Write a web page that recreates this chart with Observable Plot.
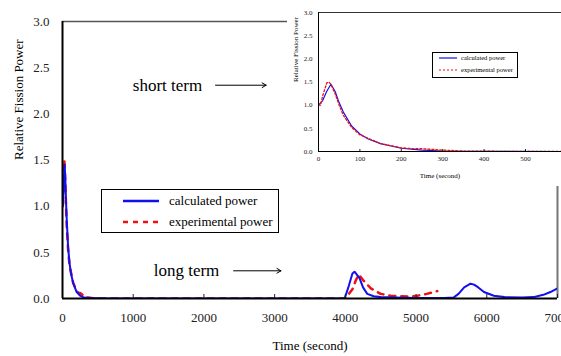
<!DOCTYPE html>
<html>
<head>
<meta charset="utf-8">
<script src="https://cdn.jsdelivr.net/npm/d3@7"></script>
<script src="https://cdn.jsdelivr.net/npm/@observablehq/plot@0.6"></script>
<style>
  html, body { margin: 0; padding: 0; background: #fff; }
  #wrap { position: relative; width: 561px; height: 356px; overflow: hidden; font-family: "Liberation Serif", "Times New Roman", serif; }
  #wrap svg text { font-family: "Liberation Serif", "Times New Roman", serif !important; }
  #inset { position: absolute; left: 287px; top: 0; width: 274px; height: 186px; background: #fff; }
  .legend { position: absolute; border: 1px solid #000; background: #fff; box-sizing: border-box; font-family: "Liberation Serif", "Times New Roman", serif; }
  .legend .row { position: absolute; display: flex; align-items: center; white-space: nowrap; }
</style>
</head>
<body>
<div id="wrap"></div>
<script>
// ---- data ----
const calcTime  = [0,10,20,30,40,50,60,80,100,120,150,200,250,300,400,600,1000,2000,3000,3990,4050,4100,4130,4200,4250,4310,4400,4500,4700,5000,5400,5530,5600,5680,5770,5820,5880,5960,6100,6250,6500,6660,6800,6900,7000];
const calcPower = [1.0,1.1,1.3,1.45,1.3,1.05,0.85,0.55,0.38,0.27,0.17,0.07,0.03,0.01,0.005,0,0,0,0,0,0.14,0.27,0.29,0.22,0.12,0.05,0.025,0.015,0.01,0.005,0.005,0.01,0.05,0.12,0.16,0.15,0.12,0.07,0.03,0.015,0.01,0.015,0.04,0.07,0.11];
const expTime   = [0,5,10,20,25,30,40,50,60,80,100,150,200,230,250,300,350,500,1000,2000,3000,4000,4100,4150,4190,4250,4360,4500,4640,4920,5020,5150,5300];
const expPower  = [1.0,1.0,1.2,1.48,1.5,1.45,1.25,1.0,0.78,0.52,0.36,0.17,0.08,0.06,0.06,0.03,0.01,0,0,0,0,0,0.1,0.2,0.26,0.2,0.11,0.05,0.03,0.02,0.03,0.05,0.08];
const seriesNames = ["calculated power", "experimental power"];
const yTicks = [0, 0.5, 1, 1.5, 2, 2.5, 3];
const xTicksMain = [0, 1000, 2000, 3000, 4000, 5000, 6000, 7000];
const xTicksInset = [0, 100, 200, 300, 400, 500];
const annotations = [
  {label: "short term", x: 1485, y: 2.31, x1: 2164, x2: 2880},
  {label: "long term",  x: 1754, y: 0.30, x1: 2420, x2: 3090}
];

const calc = calcTime.map((t, i) => ({t, p: calcPower[i]}));
const exp  = expTime.map((t, i) => ({t, p: expPower[i]}));
const BLUE = "#1010f0", RED = "#f01010";
const FONT = "Liberation Serif, Times New Roman, serif";

// ---- main chart ----
const main = Plot.plot({
  width: 561, height: 356,
  marginLeft: 62, marginRight: 4, marginTop: 21, marginBottom: 58,
  style: {fontFamily: FONT, fontSize: "13px", color: "#222", background: "transparent"},
  x: {domain: [0, 7000]},
  y: {domain: [0, 3]},
  marks: [
    Plot.ruleY([3], {stroke: "#555", strokeWidth: 1.5}),
    Plot.ruleX([7000], {stroke: "#777", strokeWidth: 2}),
    Plot.line(exp, {x: "t", y: "p", stroke: RED, strokeWidth: 2.5, strokeDasharray: "6,6", clip: true}),
    Plot.line(calc, {x: "t", y: "p", stroke: BLUE, strokeWidth: 2, clip: true}),
    Plot.axisX({ticks: xTicksMain, tickSize: -4, tickPadding: 18, tickFormat: d => String(d), label: null, fontFamily: FONT, fontSize: 13, fill: "#222"}),
    Plot.axisY({ticks: yTicks, tickSize: 0, tickPadding: 13, tickFormat: d => d.toFixed(1), label: null, fontFamily: FONT, fontSize: 13, fill: "#222"}),
    Plot.ruleX([0], {stroke: "#000", strokeWidth: 2}),
    Plot.ruleY([0], {stroke: "#000", strokeWidth: 2}),
    Plot.text(annotations, {x: "x", y: "y", text: "label", fontSize: 17, fontFamily: FONT, fill: "#000"}),
    Plot.arrow(annotations, {x1: "x1", x2: "x2", y1: "y", y2: "y", stroke: "#000", strokeWidth: 1, headLength: 7}),
    Plot.text(["Time (second)"], {frameAnchor: "bottom", dy: 51, text: d => d, fontSize: 13, fontFamily: FONT, fill: "#000"}),
    Plot.text(["Relative Fission Power"], {frameAnchor: "left", dx: -44, rotate: -90, text: d => d, fontSize: 13, fontFamily: FONT, fill: "#000"})
  ]
});
const wrap = document.getElementById("wrap");
main.style.position = "absolute"; main.style.left = "0"; main.style.top = "0";
wrap.appendChild(main);

// ---- inset chart ----
const insetDiv = document.createElement("div");
insetDiv.id = "inset";
wrap.appendChild(insetDiv);
const inset = Plot.plot({
  width: 274, height: 186,
  marginLeft: 31, marginRight: 0, marginTop: 12, marginBottom: 35,
  style: {fontFamily: FONT, fontSize: "7px", color: "#222", background: "transparent"},
  x: {domain: [0, 587]},
  y: {domain: [0, 3]},
  marks: [
    Plot.ruleY([3], {stroke: "#333", strokeWidth: 1}),
    Plot.line(calc, {x: "t", y: "p", stroke: BLUE, strokeWidth: 1.2, clip: true}),
    Plot.line(exp, {x: "t", y: "p", stroke: RED, strokeWidth: 1.3, strokeDasharray: "2,2", clip: true}),
    Plot.axisX({ticks: xTicksInset, tickSize: -2, tickPadding: 7, tickFormat: d => String(d), label: null, fontFamily: FONT, fontSize: 7}),
    Plot.axisY({ticks: yTicks, tickSize: 0, tickPadding: 6, tickFormat: d => d.toFixed(1), label: null, fontFamily: FONT, fontSize: 7}),
    Plot.ruleX([0], {stroke: "#000", strokeWidth: 1}),
    Plot.ruleY([0], {stroke: "#000", strokeWidth: 1}),
    Plot.text(["Time (second)"], {frameAnchor: "bottom", dy: 26, text: d => d, fontSize: 7, fontFamily: FONT, fill: "#000"}),
    Plot.text(["Relative Fission Power"], {frameAnchor: "left", dx: -23, rotate: -90, text: d => d, fontSize: 7, fontFamily: FONT, fill: "#000"})
  ]
});
insetDiv.appendChild(inset);

// ---- legends ----
function legend(left, top, w, h, rows, fontSize, lineLen, lineW) {
  const box = document.createElement("div");
  box.className = "legend";
  Object.assign(box.style, {left: left + "px", top: top + "px", width: w + "px", height: h + "px"});
  rows.forEach((r) => {
    const row = document.createElement("div");
    row.className = "row";
    Object.assign(row.style, {left: r.x + "px", top: r.y + "px", fontSize: fontSize + "px", color: "#000"});
    const svg = `<svg width="${lineLen}" height="6" style="margin-right:${r.gap}px"><line x1="0" y1="3" x2="${lineLen}" y2="3" stroke="${r.color}" stroke-width="${lineW}" ${r.dash ? `stroke-dasharray="${r.dash}"` : ""}/></svg>`;
    row.innerHTML = svg + `<span>${r.name}</span>`;
    box.appendChild(row);
  });
  wrap.appendChild(box);
}
legend(101, 189, 178, 44, [
  {name: seriesNames[0], color: BLUE, x: 21, y: 3, gap: 10},
  {name: seriesNames[1], color: RED, x: 21, y: 24, gap: 10, dash: "5,5"}
], 13, 36, 2.5);
legend(432, 52, 86, 26, [
  {name: seriesNames[0], color: BLUE, x: 6, y: 1, gap: 4},
  {name: seriesNames[1], color: RED, x: 6, y: 13, gap: 4, dash: "2,2"}
], 6.5, 18, 1.2);
</script>
</body>
</html>
